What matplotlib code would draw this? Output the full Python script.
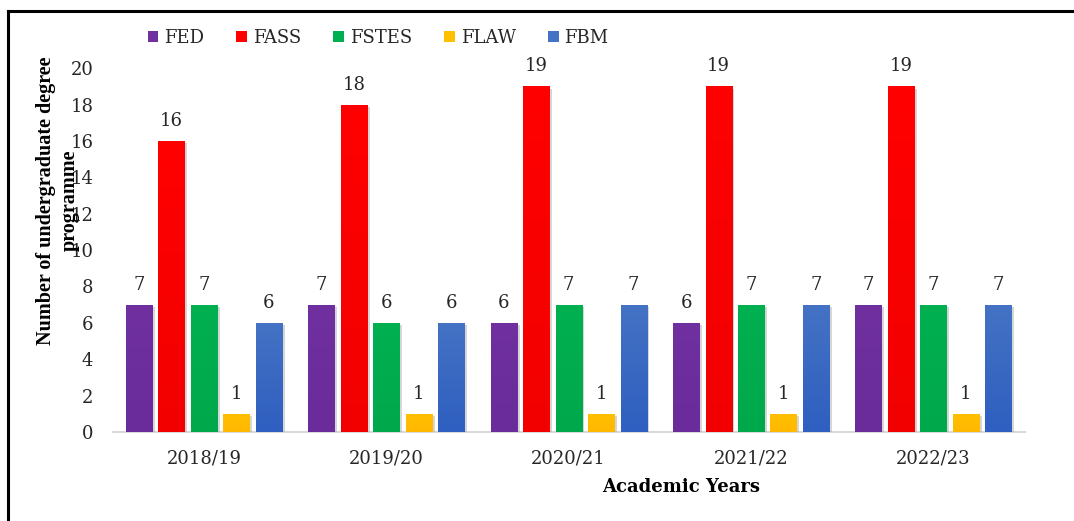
import numpy as np
import matplotlib
matplotlib.use("Agg")
import matplotlib.pyplot as plt
from matplotlib.lines import Line2D
from matplotlib.patches import Patch
import matplotlib.patheffects as pe
from matplotlib.colors import to_rgb

years = ["2018/19", "2019/20", "2020/21", "2021/22", "2022/23"]
faculties = ["FED", "FASS", "FSTES", "FLAW", "FBM"]
fed = [7, 7, 6, 6, 7]
fass = [16, 18, 19, 19, 19]
fstes = [7, 6, 7, 7, 7]
flaw = [1, 1, 1, 1, 1]
fbm = [6, 6, 7, 7, 7]
series = [fed, fass, fstes, flaw, fbm]
colors = ["#7030A0", "#FF0000", "#00B050", "#FFC000", "#4472C4"]
bottom_colors = ["#6A2C9A", "#F20000", "#00A84C", "#FFB800", "#2F5FC0"]

plt.rcParams["font.family"] = ["DejaVu Serif"]
text_color = "#262626"
fs = 13

fig = plt.figure(figsize=(10.74, 5.21), dpi=100)
ax = fig.add_axes([0.105, 0.171, 0.849, 0.698])

x = np.arange(len(years))
step = 0.178
width = 0.143
shadow = [pe.SimplePatchShadow(offset=(2, -1.5), shadow_rgbFace="#999999", alpha=0.4),
          pe.Normal()]

for i, (vals, col, bcol) in enumerate(zip(series, colors, bottom_colors)):
    pos = x + (i - 2) * step
    bars = ax.bar(pos, vals, width, color=col, label=faculties[i], zorder=2)
    top = np.array(to_rgb(col))
    bot = np.array(to_rgb(bcol))
    grad = np.linspace(0, 1, 64)[:, None, None]
    img = top * (1 - grad) + bot * grad
    for b, v in zip(bars, vals):
        b.set_path_effects(shadow)
        x0 = b.get_x()
        im = ax.imshow(img, extent=(x0, x0 + width, 0, v), aspect="auto",
                       origin="upper", zorder=3, interpolation="bilinear")
        im.set_clip_path(b)
        ax.annotate(f"{v}", (b.get_x() + width / 2, v), xytext=(0, 8),
                    textcoords="offset points", ha="center", va="bottom",
                    fontsize=fs, color=text_color)

ax.set_xlim(-0.5, len(years) - 0.5)
ax.set_ylim(0, 20)
ax.set_yticks(range(0, 21, 2))
ax.set_xticks(x)
ax.set_xticklabels(years)
ax.tick_params(axis="y", length=0, pad=14, labelsize=fs, labelcolor=text_color)
ax.tick_params(axis="x", length=0, pad=13, labelsize=fs, labelcolor=text_color)
for s in ["top", "right", "left"]:
    ax.spines[s].set_visible(False)
ax.spines["bottom"].set_color("#D9D9D9")
ax.spines["bottom"].set_linewidth(1.5)
ax.spines["bottom"].set_zorder(1)

fig.text(0.054, 0.615, "Number of undergraduate degree\nprogramme", rotation=90,
         ha="center", va="center", fontsize=14.5, fontweight="bold",
         family="Liberation Serif", color="black", linespacing=1.2)
fig.text(0.634, 0.065, "Academic Years", ha="center", va="center",
         fontsize=fs, fontweight="bold", color="black")

handles = [Patch(facecolor=c, label=f) for c, f in zip(colors, faculties)]
leg = fig.legend(handles=handles, loc="center", bbox_to_anchor=(0.352, 0.927),
                 ncol=5, frameon=False, fontsize=fs, handlelength=0.6,
                 handleheight=0.6, handletextpad=0.3, columnspacing=1.8)
for t in leg.get_texts():
    t.set_color(text_color)

# frame lines along the left and top edges
fig.add_artist(Line2D([0.0075, 0.0075], [0.0, 0.979], color="black", lw=2.2,
                      transform=fig.transFigure))
fig.add_artist(Line2D([0.0075, 1.0], [0.979, 0.979], color="black", lw=2.2,
                      transform=fig.transFigure))

fig.savefig("out.png", dpi=100)
